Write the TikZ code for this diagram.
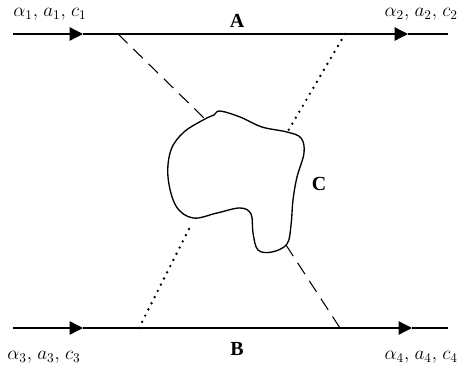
\documentclass[tikz,border=0pt]{standalone}
\usepackage{fontspec}
\newfontfamily\lblfont{Liberation Serif}
\usetikzlibrary{arrows.meta,positioning,calc}
\tikzset{
  prop/.style={line width=1pt},
  arr/.style={prop,-{Triangle[length=10pt,width=10pt]}},
  dsh/.style={line width=0.8pt,dash pattern=on 10pt off 6pt},
  dtt/.style={line width=2pt,line cap=round,dash pattern=on 0pt off 5.2pt},
  blob/.style={line width=1pt},
  lbl/.style={font=\Large,inner sep=0pt},
  nm/.style={font=\lblfont\fontsize{15}{17}\selectfont\bfseries,inner sep=0pt}
}
\newcommand{\trip}[1]{$\alpha_{#1},\mkern2mu a_{#1},\mkern2mu c_{#1}$}
\begin{document}
\begin{tikzpicture}[x=0.75pt,y=-0.75pt]
  \useasboundingbox (0,0) rectangle (460,371);
  % external lines
  \coordinate (p1) at (13,34);
  \coordinate (t1) at (83,34);
  \coordinate (t2) at (408,34);
  \coordinate (p2) at (448,34);
  \coordinate (p3) at (13,328);
  \coordinate (t3) at (83,328);
  \coordinate (t4) at (412,328);
  \coordinate (p4) at (448,328);
  \draw[arr] (p1)--(t1);
  \draw[arr] (t1)--(t2);
  \draw[prop] (t2)--(p2);
  \draw[arr] (p3)--(t3);
  \draw[arr] (t3)--(t4);
  \draw[prop] (t4)--(p4);
  % blob
  \draw[blob] plot[smooth cycle,tension=0.6] coordinates {
    (205,119) (214,115) (220,111) (240,117) (262,127) (287,132) (301,138)
    (304,153) (297,177) (293,200) (291,225) (287,244) (272,252) (258,250)
    (253,233) (251,214) (240,208) (217,213) (193,218) (176,206) (168,177)
    (171,150) (184,132)};
  \coordinate (c1) at (205,119);
  \coordinate (c2) at (288,131);
  \coordinate (c3) at (190,227);
  \coordinate (c4) at (286,245);
  \coordinate (v1) at (118,34);
  \coordinate (v2) at (345,34);
  \coordinate (v3) at (139,328);
  \coordinate (v4) at (340,328);
  \draw[dsh] (v1)--(c1);
  \draw[dtt] (v2)--(c2);
  \draw[dtt] (v3)--(c3);
  \draw[dsh] (c4)--(v4);
  % labels
  \node[lbl] (l1) at (50,14) {\trip1};
  \node[lbl,anchor=east] (l2) at (458,14) {\trip2};
  \node[lbl] (l3) at (44,357) {\trip3};
  \node[lbl,anchor=east] (l4) at (458,357) {\trip4};
  \node[nm] (A) at (237,21) {A};
  \node[nm] (B) at (237,349) {B};
  \node[nm] (C) at (319,184) {C};
\end{tikzpicture}
\end{document}
